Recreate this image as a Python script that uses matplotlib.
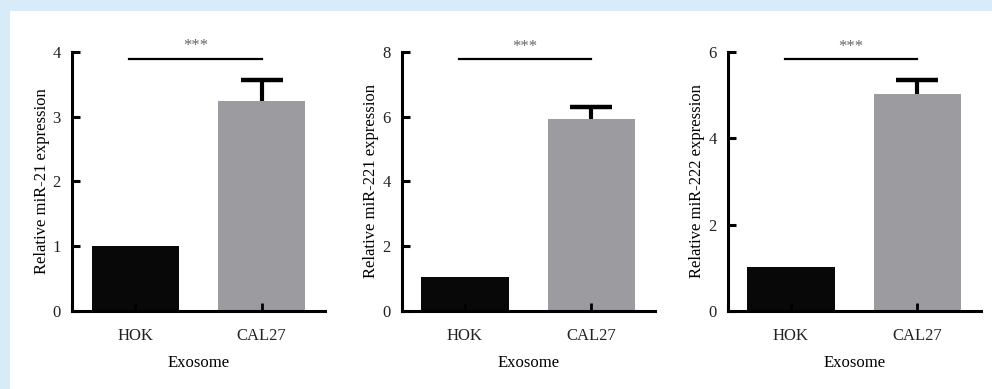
import matplotlib.pyplot as plt
from matplotlib.patches import Rectangle

plt.rcParams['font.family'] = ['Liberation Serif', 'DejaVu Serif']

groups = ['HOK', 'CAL27']
ylabels = ['Relative miR-21 expression', 'Relative miR-221 expression', 'Relative miR-222 expression']
means = [[1.0, 3.25], [1.04, 5.92], [1.02, 5.03]]
errs = [[0.0, 0.32], [0.0, 0.38], [0.0, 0.31]]
ymaxes = [4, 8, 6]
yticks = [[0, 1, 2, 3, 4], [0, 2, 4, 6, 8], [0, 2, 4, 6]]
sig_y = [3.89, 7.77, 5.83]
sig_text = '***'
bar_colors = ['#080808', '#9c9ca0']

lefts = [0.0726, 0.4049, 0.7336]
width = 0.255

fig = plt.figure(figsize=(9.92, 3.89), dpi=100)
fig.patch.set_facecolor('#d7ebf8')
# white panel inside the light blue frame
fig.patches.append(Rectangle((10 / 992, 0), 1, 1 - 11 / 389, transform=fig.transFigure,
                             facecolor='white', edgecolor='none', zorder=-10))

for i in range(3):
    ax = fig.add_axes([lefts[i], 0.2005, width, 0.666])
    ax.set_facecolor('none')
    ax.bar([0, 1], means[i], width=0.69, color=bar_colors, zorder=1)
    eb = ax.errorbar([1], [means[i][1]], yerr=[[0], [errs[i][1]]], fmt='none',
                     ecolor='black', elinewidth=3, capsize=15, capthick=3.2, zorder=2)
    eb[1][0].set_visible(False)  # only the upper cap
    # significance bar
    ax.plot([-0.05, 1.0], [sig_y[i], sig_y[i]], color='black', lw=1.6, clip_on=False)
    ax.text(0.475, sig_y[i] + ymaxes[i] * 0.018, sig_text, ha='center', va='bottom',
            fontsize=12, color='#666666')

    ax.set_xlim(-0.5, 1.5)
    ax.set_ylim(0, ymaxes[i])
    ax.set_yticks(yticks[i])
    ax.set_xticks([0, 1])
    ax.set_xticklabels(groups)
    ax.spines['top'].set_visible(False)
    ax.spines['right'].set_visible(False)
    ax.spines['left'].set_linewidth(2.2)
    ax.spines['bottom'].set_linewidth(2.2)
    ax.tick_params(axis='y', direction='in', length=6, width=2.2, labelsize=12, pad=8)
    ax.tick_params(axis='x', direction='in', length=6, width=2, labelsize=12, pad=12)
    for lbl in ax.get_xticklabels() + ax.get_yticklabels():
        lbl.set_color('#222222')
    ax.set_ylabel(ylabels[i], fontsize=12, labelpad=2)
    ax.set_xlabel('Exosome', fontsize=12, labelpad=8)

fig.savefig('out.png', dpi=100, facecolor=fig.get_facecolor())
